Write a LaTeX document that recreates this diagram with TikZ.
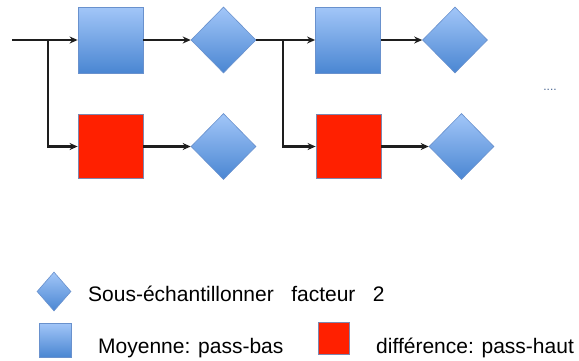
\documentclass[tikz,border=0pt]{standalone}
\usepackage{fontspec}
\setmainfont{Liberation Sans}
\usetikzlibrary{shapes.geometric,arrows.meta}
\definecolor{bluetop}{RGB}{162,198,248}
\definecolor{bluebot}{RGB}{74,134,210}
\definecolor{blueedge}{RGB}{105,145,205}
\definecolor{redfill}{RGB}{255,32,0}
\definecolor{rededge}{RGB}{125,135,175}
\definecolor{linec}{RGB}{30,30,30}
\tikzset{
  bluebox/.style={rectangle, draw=blueedge, line width=0.8pt, top color=bluetop, bottom color=bluebot, minimum width=65pt, minimum height=66pt, inner sep=0pt},
  redbox/.style={rectangle, draw=rededge, line width=0.8pt, fill=redfill, minimum width=65pt, minimum height=64pt, inner sep=0pt},
  dia/.style={diamond, draw=blueedge, line width=0.6pt, top color=bluetop, bottom color=bluebot, minimum width=65pt, minimum height=66pt, inner sep=0pt},
  conn/.style={draw=linec, line width=2.1pt, -{Stealth[length=8pt,width=7pt]}},
  lbl/.style={anchor=base west, inner sep=0pt, font=\fontsize{21pt}{24pt}\selectfont, text=black}
}
\begin{document}
\begin{tikzpicture}[x=1pt,y=-1pt]
\useasboundingbox (0,0) rectangle (579,360);
% first stage
\node[bluebox] (b1) at (110.5,40) {};
\node[redbox] (r1) at (110.5,146.5) {};
\node[dia] (d1) at (223.5,40) {};
\node[dia] (d2) at (223.5,146.5) {};
% second stage
\node[bluebox] (b2) at (348,40) {};
\node[redbox] (r2) at (348.5,146.5) {};
\node[dia] (d3) at (455,40) {};
\node[dia] (d4) at (461.5,146.5) {};
% coordinates
\coordinate (in) at (12,40);
\coordinate (s1) at (48,40);
\coordinate (s1b) at (48,146.5);
\coordinate (s2) at (283,40);
\coordinate (s2b) at (283,146.5);
% connectors
\draw[conn] (in) -- (b1.west);
\draw[conn] (s1) -- (s1b) -- (r1.west);
\draw[conn] (b1.east) -- (d1.west);
\draw[conn] (r1.east) -- (d2.west);
\draw[conn] (d1.east) -- (b2.west);
\draw[conn] (s2) -- (s2b) -- (r2.west);
\draw[conn] (b2.east) -- (d3.west);
\draw[conn] (r2.east) -- (d4.west);
% dots
\node[inner sep=0pt, text=blueedge!70!black, font=\fontsize{12pt}{14pt}\selectfont] (dots) at (550,90) {....};
% legend
\node[dia, minimum width=34pt, minimum height=39pt] (ld) at (54,291.5) {};
\node[bluebox, minimum width=32pt, minimum height=34pt] (lb) at (55,340) {};
\node[redbox, minimum width=31pt, minimum height=32pt] (lr) at (333.5,338) {};
\node[lbl] (t1) at (88,301) {Sous-échantillonner\ \ \ facteur\ \ \ 2};
\node[lbl] (t2) at (98,353) {Moyenne: pass-bas};
\node[lbl] (t3) at (376,353) {différence: pass-haut};
\end{tikzpicture}
\end{document}
